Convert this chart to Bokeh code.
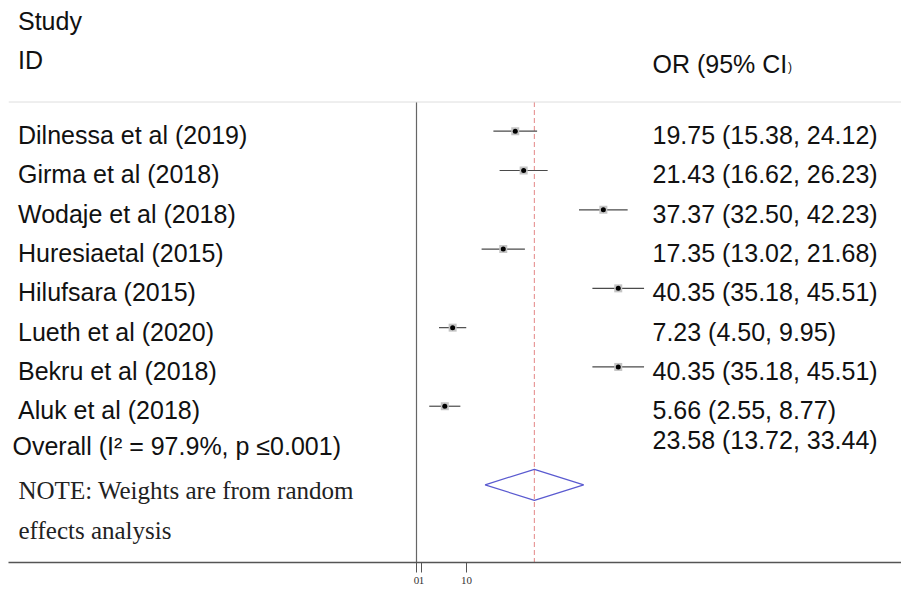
from bokeh.plotting import figure
from bokeh.models import Range1d, FixedTicker, Span, ColumnDataSource
from bokeh.core.properties import value
from bokeh.embed import file_html
from bokeh.resources import INLINE

# ---------------- data ----------------
studies = ["Dilnessa et al (2019)", "Girma et al (2018)", "Wodaje et al (2018)",
           "Huresiaetal (2015)", "Hilufsara (2015)", "Lueth et al (2020)",
           "Bekru et al (2018)", "Aluk et al (2018)"]
or_est = [19.75, 21.43, 37.37, 17.35, 40.35, 7.23, 40.35, 5.66]
ci_low = [15.38, 16.62, 32.50, 13.02, 35.18, 4.50, 35.18, 2.55]
ci_high = [24.12, 26.23, 42.23, 21.68, 45.51, 9.95, 45.51, 8.77]
overall_est = 23.58
overall_low = 13.72
overall_high = 33.44
overall_label = "Overall (I\u00b2 = 97.9%, p \u22640.001)"
tick_values = [0, 1, 10]

# ---------------- layout constants (page pixels) ----------------
FIG_W = 901
LEFT_PAD = 8
FRAME_H = 562
X0_PX = 416.0        # pixel x of value 0
PX_UNIT = 5.0        # pixels per OR unit
ROW0_PX = 130.7      # pixel y of first study row
ROW_STEP = 39.29     # pixels per row


def xd(px):
    return (px - X0_PX) / PX_UNIT


def yd(py):
    return (py - ROW0_PX) / ROW_STEP


x_start, x_end = xd(LEFT_PAD), xd(FIG_W)
y_top, y_bottom = yd(0), yd(FRAME_H)

p = figure(frame_width=FIG_W - LEFT_PAD, frame_height=FRAME_H,
           x_range=Range1d(x_start, x_end), y_range=Range1d(y_bottom, y_top),
           output_backend="svg", toolbar_location=None, min_border=0,
           min_border_left=LEFT_PAD,
           y_axis_location=None, background_fill_color="white",
           border_fill_color="white")
p.outline_line_color = None
p.xgrid.visible = False
p.ygrid.visible = False

ax = p.xaxis[0]
ax.ticker = FixedTicker(ticks=tick_values, minor_ticks=[])
ax.axis_line_color = "#555555"
ax.axis_line_width = 1.5
ax.major_tick_in = 0
ax.major_tick_out = 10
ax.major_tick_line_color = "#555555"
ax.minor_tick_line_color = None
ax.major_label_standoff = 4
ax.major_label_text_font = "Liberation Serif"
ax.major_label_text_font_size = "11px"
ax.major_label_text_color = "#333333"

rows = list(range(len(studies)))
line_top = yd(101.5)

# header rule
p.add_layout(Span(location=line_top, dimension="width", line_color="#dedede", line_width=1))

# null line and overall dashed line
p.segment(x0=[0], y0=[line_top], x1=[0], y1=[y_bottom], line_color="#666666", line_width=1.2)
p.segment(x0=[overall_est], y0=[line_top], x1=[overall_est], y1=[y_bottom],
          line_color="#e89a9a", line_width=1.2, line_dash="5 3")

# CIs
src = ColumnDataSource(dict(row=rows, est=or_est, lo=ci_low, hi=ci_high))
p.segment(x0="lo", y0="row", x1="hi", y1="row", source=src, line_color="#4a4a4a", line_width=1.2)
p.scatter(x="est", y="row", source=src, marker="square", size=8, fill_color="#c4c4c4",
          line_color=None)
p.scatter(x="est", y="row", source=src, marker="circle", size=5, fill_color="black",
          line_color=None)

# diamond
d_row = 9
half_h = 15.5 / ROW_STEP
p.patch(x=[overall_low, overall_est, overall_high, overall_est],
        y=[d_row, d_row - half_h, d_row, d_row + half_h],
        fill_color=None, line_color="#5a5ad0", line_width=1.2)

FONT = value("Liberation Sans")
SERIF = value("Liberation Serif")
text_off = 4 / ROW_STEP
LEFT_X = xd(17.5)
RIGHT_X = xd(652)


def txt(xs, ys, texts, font=FONT, size="25px", color="#111111"):
    p.text(x=xs, y=ys, text=texts, text_font=font, text_font_size=size,
           text_baseline="middle", text_align="left", text_color=color)


# study labels and OR texts
or_texts = [f"{e:.2f} ({l:.2f}, {h:.2f})" for e, l, h in zip(or_est, ci_low, ci_high)]
txt([LEFT_X] * len(studies), [r + text_off for r in rows], studies)
txt([RIGHT_X] * len(studies), [r + text_off for r in rows], or_texts)

# headers
txt([LEFT_X, LEFT_X, RIGHT_X], [yd(20), yd(59), yd(63)], ["Study", "ID", "OR (95% CI"])
txt([xd(652 + 135.5)], [yd(66)], [")"], size="12px")

# overall
txt([xd(12)], [yd(445)], [overall_label])
txt([RIGHT_X], [yd(439)], [f"{overall_est:.2f} ({overall_low:.2f}, {overall_high:.2f})"])

# note
txt([xd(18), xd(18)], [yd(490), yd(530)],
    ["NOTE: Weights are from random", "effects analysis"], font=SERIF, color="#222222")

open("out.html", "w").write(file_html(p, INLINE))
